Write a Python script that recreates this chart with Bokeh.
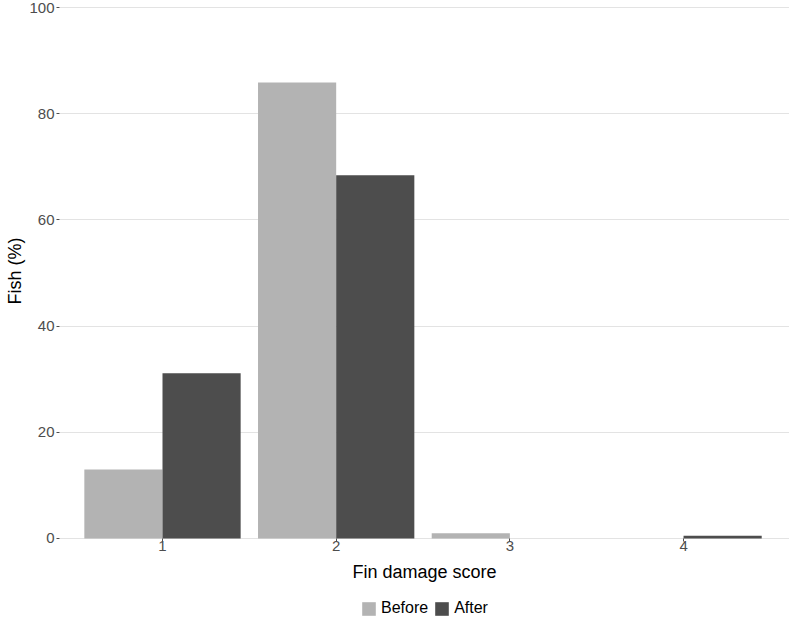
from bokeh.plotting import figure
from bokeh.models import Range1d, FixedTicker, Legend, LegendItem, ColumnDataSource, Title
from bokeh.transform import dodge
from bokeh.embed import file_html
from bokeh.resources import INLINE

# Data
scores = [1, 2, 3, 4]
tick_labels = {1: "1", 2: "2", 3: "3", 4: "4"}
y_ticks = [0, 20, 40, 60, 80, 100]
before = [13.0, 85.9, 1.0, 0.0]
after = [31.1, 68.4, 0.0, 0.5]
series_names = ["Before", "After"]
series_colors = ["#B3B3B3", "#4D4D4D"]
x_title = "Fin damage score"
y_title = "Fish (%)"

src = ColumnDataSource(dict(score=scores, before=before, after=after))

FONT = "Liberation Sans"

p = figure(frame_width=730, frame_height=618, output_backend="svg", toolbar_location=None,
           x_range=Range1d(0.407, 4.61), y_range=Range1d(-15.07, 101.32),
           min_border_left=59, min_border_right=0, min_border_top=0, min_border_bottom=0)
p.outline_line_color = None
p.background_fill_color = "white"
p.border_fill_color = "white"

bw = 0.45
r_before = p.vbar(x=dodge("score", -bw / 2, range=p.x_range), top="before", bottom=0, width=bw,
                  source=src, fill_color=series_colors[0], line_color=None)
r_after = p.vbar(x=dodge("score", bw / 2, range=p.x_range), top="after", bottom=0, width=bw,
                 source=src, fill_color=series_colors[1], line_color=None)

# Grids
p.xgrid.grid_line_color = None
p.ygrid.grid_line_color = "#E3E3E3"
p.ygrid.grid_line_width = 1
p.ygrid.ticker = FixedTicker(ticks=y_ticks)
p.ygrid.level = "underlay"

# Axes
p.xaxis.ticker = FixedTicker(ticks=scores)
p.xaxis.major_label_overrides = tick_labels
p.xaxis.fixed_location = 0
p.yaxis.ticker = FixedTicker(ticks=y_ticks)
for ax in (p.xaxis[0], p.yaxis[0]):
    ax.axis_line_color = None
    ax.minor_tick_line_color = None
    ax.major_tick_line_color = "#4D4D4D"
    ax.major_tick_in = 0
    ax.major_tick_out = 3
    ax.major_label_text_font = FONT
    ax.major_label_text_font_size = "15px"
    ax.major_label_text_color = "#4D4D4D"
    ax.axis_label_text_font = FONT
    ax.axis_label_text_font_size = "18px"
    ax.axis_label_text_font_style = "normal"
    ax.axis_label_text_color = "black"
p.xaxis.axis_label = x_title
p.xaxis.major_label_standoff = 0
p.xaxis.axis_label_standoff = 7
p.yaxis.major_label_standoff = 2

# y title placed as a side title so it is centred on the 0-100 span
ytitle = Title(text=y_title, align="right", offset=237, standoff=4,
               text_font=FONT, text_font_size="18px", text_font_style="normal",
               text_color="black")
p.add_layout(ytitle, "left")

legend = Legend(items=[LegendItem(label=series_names[0], renderers=[r_before]),
                       LegendItem(label=series_names[1], renderers=[r_after])],
                orientation="horizontal", location=(301, 1),
                glyph_width=17, glyph_height=17, label_standoff=4, spacing=5,
                padding=0, margin=0, label_height=17,
                label_text_font=FONT, label_text_font_size="16px", label_text_color="black",
                border_line_color=None, background_fill_alpha=0)
p.add_layout(legend, "center")

open("out.html", "w").write(file_html(p, INLINE))
